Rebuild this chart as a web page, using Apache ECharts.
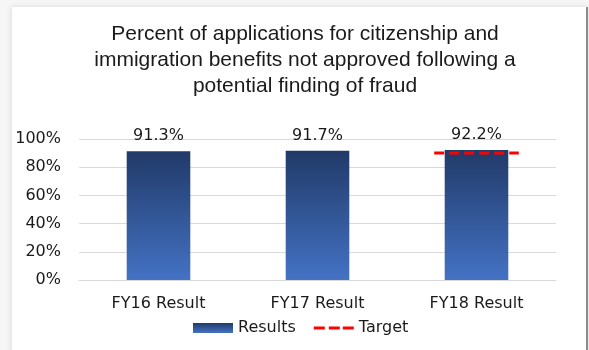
<!DOCTYPE html>
<html>
<head>
<meta charset="utf-8">
<script src="https://cdn.jsdelivr.net/npm/echarts@6/dist/echarts.min.js"></script>
<style>
  html, body { margin: 0; padding: 0; background: #f6f6f6; }
  #card {
    position: absolute; left: 12px; top: 7px; width: 574px; height: 400px;
    background: #ffffff; border-right: 2px solid #8c8c8c;
    box-shadow: 0 0 6px rgba(0, 0, 0, 0.13);
  }
  #chart { position: absolute; left: 0; top: 0; width: 589px; height: 350px; }
</style>
</head>
<body>
<div id="card"></div>
<div id="chart"></div>
<script>
// Fiscal years shown on the category axis
const categories = ['FY16 Result', 'FY17 Result', 'FY18 Result'];
// Share of applications not approved after a potential fraud finding (%)
const results = [91.3, 91.7, 92.2];
// Performance target (%), only set for FY18
const targets = [null, null, 90];
// Value axis ticks
const yTicks = [0, 20, 40, 60, 80, 100];

const titleText = 'Percent of applications for citizenship and\nimmigration benefits not approved following a\npotential finding of fraud';

// Target segments span a fraction of each category band around its centre
const targetHalfSpan = 0.266;
const targetPoints = [];
targets.forEach(function (v, i) {
  if (v == null) return;
  targetPoints.push([i - targetHalfSpan, v], [i + targetHalfSpan, v], [null, null]);
});

// Dashed legend glyph for the target line
const dashIcon = 'path://M0,0h11v3h-11zM15,0h11v3h-11zM29,0h11v3h-11z';

const labelFont = 'DejaVu Sans';
const chart = echarts.init(document.getElementById('chart'), null, { renderer: 'canvas' });

chart.setOption({
  animation: false,
  backgroundColor: 'transparent',
  title: {
    text: titleText,
    left: 300,
    top: 16,
    textAlign: 'center',
    textStyle: {
      fontFamily: 'Liberation Sans',
      fontSize: 21,
      fontWeight: 'normal',
      color: '#1a1a1a',
      lineHeight: 26
    }
  },
  legend: {
    left: 193,
    top: 320,
    padding: 0,
    itemWidth: 40,
    itemHeight: 10,
    itemGap: 18,
    textStyle: { fontFamily: labelFont, fontSize: 16, color: '#1a1a1a' },
    data: [
      { name: 'Results', icon: 'rect' },
      { name: 'Target', icon: dashIcon, itemStyle: { color: '#ff0000' } }
    ]
  },
  grid: { left: 79, right: 33, top: 139, bottom: 70, containLabel: false },
  xAxis: [
    {
      type: 'category',
      data: categories,
      axisLine: { lineStyle: { color: '#d9d9d9', width: 1 } },
      axisTick: { show: false },
      axisLabel: { fontFamily: labelFont, fontSize: 16, color: '#1a1a1a', margin: 16 }
    },
    {
      type: 'value',
      min: -0.5,
      max: categories.length - 0.5,
      show: false
    }
  ],
  yAxis: {
    type: 'value',
    min: yTicks[0],
    max: yTicks[yTicks.length - 1],
    interval: yTicks[1] - yTicks[0],
    axisLine: { show: false },
    axisTick: { show: false },
    splitLine: { lineStyle: { color: '#d9d9d9', width: 1 } },
    axisLabel: {
      fontFamily: labelFont, fontSize: 16, color: '#1a1a1a', margin: 18,
      formatter: function (v) { return v + '%'; }
    }
  },
  series: [
    {
      name: 'Results',
      type: 'bar',
      xAxisIndex: 0,
      data: results,
      barWidth: '40%',
      itemStyle: {
        color: new echarts.graphic.LinearGradient(0, 0, 0, 1, [
          { offset: 0, color: '#213a68' },
          { offset: 1, color: '#4472c4' }
        ])
      },
      label: {
        show: true,
        position: 'top',
        distance: 7,
        fontFamily: labelFont,
        fontSize: 16,
        color: '#1a1a1a',
        formatter: function (p) { return p.value.toFixed(1) + '%'; }
      }
    },
    {
      name: 'Target',
      type: 'line',
      xAxisIndex: 1,
      data: targetPoints,
      symbol: 'none',
      connectNulls: false,
      color: '#ff0000',
      lineStyle: { color: '#ff0000', width: 3, type: [10, 5] },
      z: 5
    }
  ]
});
</script>
</body>
</html>
